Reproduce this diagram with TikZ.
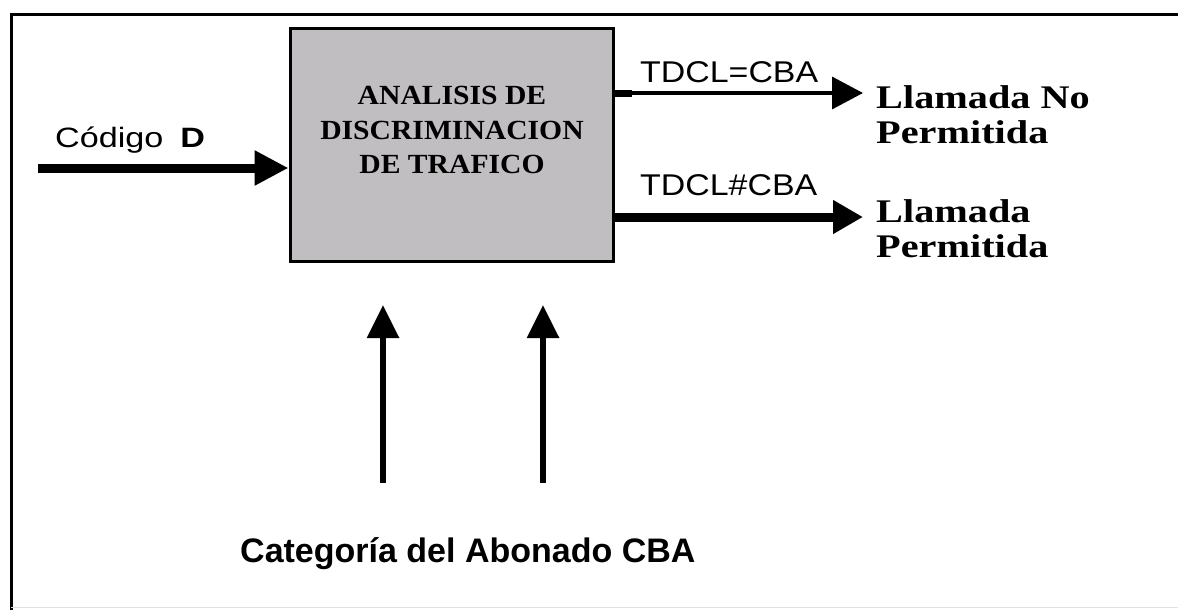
\documentclass[tikz,border=0pt]{standalone}
\usepackage{fontspec}
\usetikzlibrary{arrows.meta}
\newfontfamily\boxfont[FakeStretch=1.07]{Liberation Serif}
\newfontfamily\outfont[FakeStretch=1.22]{Liberation Serif}
\newfontfamily\codfont[FakeStretch=1.22]{Liberation Sans}
\newfontfamily\tdfont[FakeStretch=1.13]{Liberation Sans}
\newfontfamily\catfont{Liberation Sans}
\definecolor{boxgray}{RGB}{192,190,192}
\tikzset{
  procbox/.style={draw=black, line width=3pt, fill=boxgray, inner sep=0pt},
  thickarrow/.style={line width=9pt, -{Triangle[length=34pt, width=33pt]}},
  thinarrow/.style={line width=3.5pt, -{Triangle[length=31pt, width=32pt]}},
  uparrow/.style={line width=6pt, -{Triangle[length=33pt, width=31pt]}},
  lbl/.style={inner sep=0pt, anchor=base west},
}
\begin{document}
\begin{tikzpicture}[x=1pt, y=-1pt]
\useasboundingbox (0,0) rectangle (1178,610);
% frame
\draw[line width=3pt] (1190,15) -- (11,15) -- (11,620);
\draw[line width=1pt, black!12] (11,607) -- (1190,607);
% box
\node[procbox, minimum width=323pt, minimum height=232pt] (box) at (451.5,145) {};
\node[inner sep=0pt, align=center,
      font=\boxfont\bfseries\fontsize{27.7pt}{34.5pt}\selectfont] (boxtext) at (452,130)
  {ANALISIS DE\\DISCRIMINACION\\DE TRAFICO};
% input arrow
\coordinate (cin) at (38,168);
\draw[thickarrow] (cin) -- (cin -| box.west);
\node[lbl] (cod) at (55,147) {\codfont\fontsize{28pt}{28pt}\selectfont Código\hspace{17pt}\bfseries D};
% output arrows
\coordinate (o1) at (863,93);
\coordinate (o2) at (863,217);
\draw[line width=7pt] (box.east |- o1) -- ++(17,0) coordinate (stub);
\draw[thinarrow] (stub) -- (o1);
\draw[thickarrow, -{Triangle[length=30pt, width=32pt]}] (box.east |- o2) -- (o2);
\node[lbl] (t1) at (640,82) {\tdfont\fontsize{30pt}{30pt}\selectfont TDCL=CBA};
\node[lbl] (t2) at (640,195) {\tdfont\fontsize{30pt}{30pt}\selectfont TDCL\#CBA};
\node[lbl] (r1a) at (876,108) {\outfont\bfseries\fontsize{33pt}{33pt}\selectfont Llamada No};
\node[lbl] (r1b) at (876,143) {\outfont\bfseries\fontsize{33pt}{33pt}\selectfont Permitida};
\node[lbl] (r2a) at (876,222) {\outfont\bfseries\fontsize{33pt}{33pt}\selectfont Llamada};
\node[lbl] (r2b) at (876,257) {\outfont\bfseries\fontsize{33pt}{33pt}\selectfont Permitida};
% category arrows
\coordinate (c1b) at (383,483);
\coordinate (c1t) at (383,305);
\coordinate (c2b) at (543,483);
\coordinate (c2t) at (543,305);
\draw[uparrow] (c1b) -- (c1t);
\draw[uparrow] (c2b) -- (c2t);
\node[lbl] (cat) at (240,562) {\catfont\bfseries\fontsize{34pt}{34pt}\selectfont Categoría del Abonado CBA};
\end{tikzpicture}
\end{document}
